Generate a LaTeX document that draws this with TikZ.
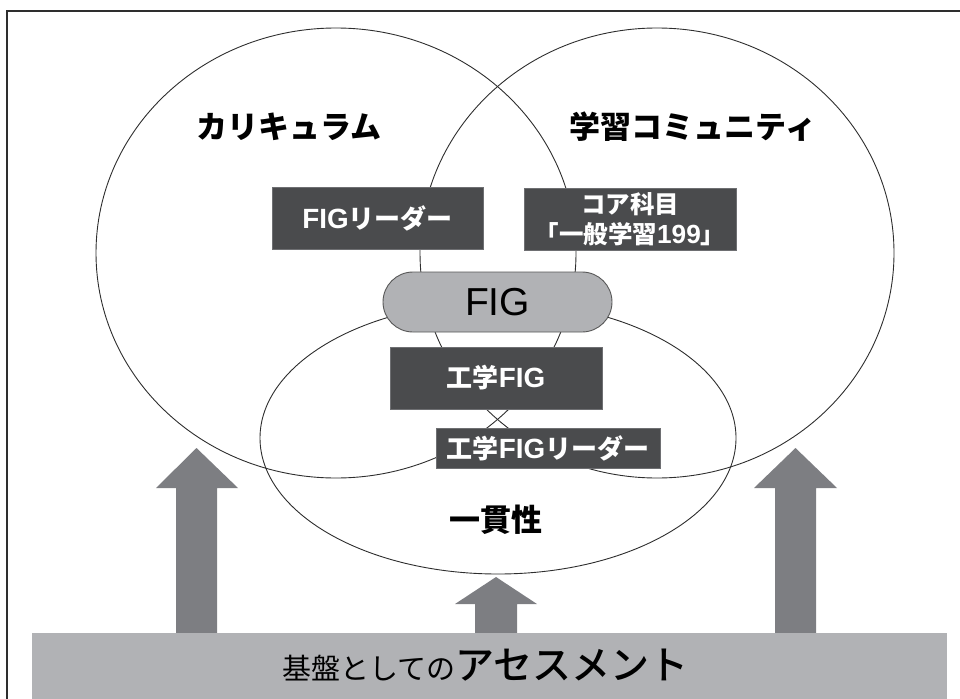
\documentclass[tikz,border=0pt]{standalone}
\usepackage{fontspec}
\newfontfamily\cjk{Noto Sans CJK JP}
\newfontfamily\cjkmed{Noto Sans CJK JP Medium}
\newfontfamily\figfont{Liberation Sans}
\newfontfamily\figbox[Scale=1.07]{Liberation Sans}
\newcommand{\latn}[1]{{\figbox\bfseries #1}}
\definecolor{boxgray}{HTML}{4A4B4D}
\definecolor{boxedge}{HTML}{6E6F72}
\definecolor{barfill}{HTML}{B1B2B5}
\definecolor{arrowgray}{HTML}{7D7E82}
\definecolor{linegray}{HTML}{2E2E2E}
\tikzset{
  darkbox/.style={draw=boxedge, line width=0.8pt, fill=boxgray, text=white, inner sep=0pt,
    font=\cjk\bfseries\fontsize{26}{29}\selectfont, align=center},
  setring/.style={draw=linegray, line width=0.9pt},
  uparrow/.style={fill=arrowgray, draw=none},
  biglabel/.style={inner sep=0pt, font=\cjk\bfseries\fontsize{31}{31}\selectfont},
}
\begin{document}
\begin{tikzpicture}[x=1pt,y=-1pt]
\useasboundingbox (0,0) rectangle (960,698);
\clip (0,0) rectangle (960,698);
% frame
\draw[line width=1.8pt, draw=linegray] (7,11) rectangle (1000,740);
% sets
\draw[setring] (336,253) ellipse [x radius=240pt, y radius=225pt];
\draw[setring] (657,253) ellipse [x radius=237pt, y radius=225pt];
\draw[setring] (498,438) ellipse [x radius=238pt, y radius=136pt];
% labels
\node[biglabel] (cur) at (289,127) {カリキュラム};
\node[biglabel] (com) at (693,127) {学習コミュニティ};
\node[biglabel] (coh) at (496,520) {一貫性};
% boxes
\node[darkbox, minimum width=211pt, minimum height=62pt] (fl) at (377.5,218) {\latn{FIG}リーダー};
\node[darkbox, minimum width=212pt, minimum height=62pt, font=\cjk\bfseries\fontsize{24.5}{30}\selectfont] (core) at (630,219) {コア科目\\「一般学習\latn{199}」};
\node[draw=linegray!80, line width=0.9pt, fill=barfill, rounded corners=30pt, minimum width=229pt, minimum height=60pt, inner sep=0pt, font=\figfont\fontsize{39}{39}\selectfont] (fig) at (497.5,302) {FIG};
\node[darkbox, minimum width=212pt, minimum height=62pt] (efig) at (496,378) {工学\latn{FIG}};
\node[darkbox, minimum width=224pt, minimum height=40pt] (efl) at (548,448) {工学\latn{FIG}リーダー};
% arrows
\fill[uparrow] (176,640) -- (176,488) -- (156,488) -- (196.5,448) -- (238,488) -- (217,488) -- (217,640) -- cycle;
\fill[uparrow] (475,640) -- (475,604) -- (455,604) -- (496,577) -- (537,604) -- (517,604) -- (517,640) -- cycle;
\fill[uparrow] (775,640) -- (775,488) -- (754,488) -- (795.5,448) -- (837,488) -- (816,488) -- (816,640) -- cycle;
% base bar
\node[fill=barfill, minimum width=915pt, minimum height=80pt, inner sep=0pt, anchor=north west] (bar) at (32,633) {};
\node[anchor=base, inner sep=0pt] (bartext) at (485.5,679) {\cjk\fontsize{29}{29}\selectfont 基盤としての\cjkmed\fontsize{39}{39}\selectfont アセスメント};
\end{tikzpicture}
\end{document}
